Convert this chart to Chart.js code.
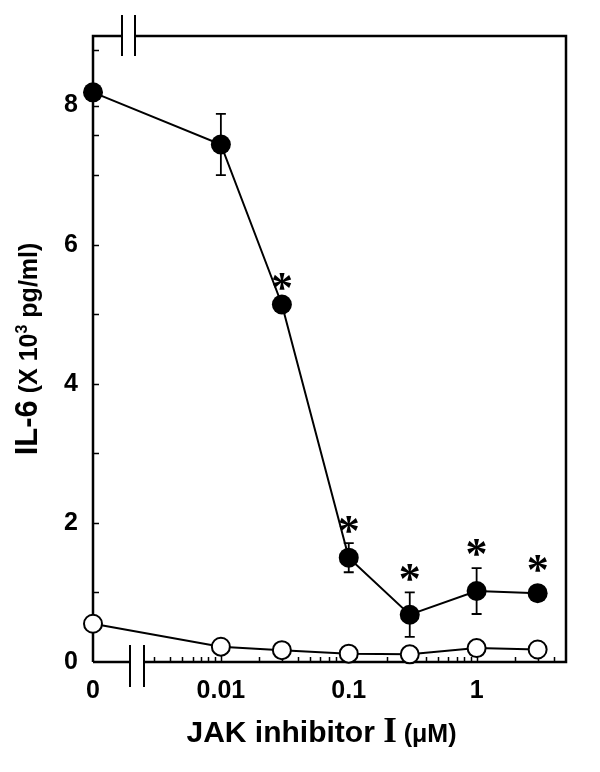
<!DOCTYPE html>
<html>
<head>
<meta charset="utf-8">
<script src="https://cdn.jsdelivr.net/npm/chart.js@4.4.1/dist/chart.umd.min.js"></script>
<style>
  html, body { margin: 0; padding: 0; background: #ffffff; }
  #wrap { position: relative; width: 600px; height: 772px; }
</style>
</head>
<body>
<div id="wrap"><canvas id="il6-chart"></canvas></div>
<script>
// concentrations of JAK inhibitor I (uM); 0 sits left of the axis break
const concs = [0, 0.01, 0.03, 0.1, 0.3, 1, 3];
// IL-6 (x10^3 pg/ml), filled circles
const il6Filled = [8.19, 7.44, 5.14, 1.50, 0.68, 1.02, 0.99];
const il6FilledErr = [0, 0.44, 0, 0.21, 0.32, 0.33, 0];
// IL-6 (x10^3 pg/ml), open circles
const il6Open = [0.55, 0.22, 0.17, 0.12, 0.11, 0.20, 0.18];
// where the significance asterisks sit (same units as y)
const starY = [null, null, 5.47, 1.97, 1.28, 1.64, 1.41];

const xTickConcs = [0, 0.01, 0.1, 1];
const xTickLabels = ['0', '0.01', '0.1', '1'];
const yTickValues = [0, 2, 4, 6, 8];
const yTickMarks = [1, 2, 3, 4, 5, 6, 7, 7.57, 8, 8.8];

const X_ZERO = -3;      // log position used for the "0" dose
const X_MAX_CONC = 5;
const SANS = '"Liberation Sans", Arial, Helvetica, sans-serif';
const SERIF = '"Liberation Serif", "Times New Roman", serif';

function toPos(c) {
  return c === 0 ? X_ZERO : Math.log10(c);
}

// log minor ticks to the right of the break
const xTickMarks = [];
for (let d = -3; d <= 0; d++) {
  for (let k = 1; k <= 9; k++) {
    const c = k * Math.pow(10, d);
    if (c > 0.0029 && c < X_MAX_CONC) xTickMarks.push({ c: c, major: k === 1 });
  }
}

const decorPlugin = {
  id: 'decor',
  beforeDatasetsDraw(chart) {
    const ctx = chart.ctx;
    const a = chart.chartArea;
    const xs = chart.scales.x;
    const ys = chart.scales.y;
    ctx.save();
    ctx.strokeStyle = '#000';
    ctx.lineCap = 'butt';

    // frame with breaks
    ctx.lineWidth = 2.5;
    ctx.beginPath();
    ctx.moveTo(a.left, a.bottom);
    ctx.lineTo(a.left, a.top);
    ctx.lineTo(a.left + 29, a.top);
    ctx.moveTo(a.left + 42, a.top);
    ctx.lineTo(a.right, a.top);
    ctx.lineTo(a.right, a.bottom);
    ctx.lineTo(a.left + 51, a.bottom);
    ctx.moveTo(a.left + 37, a.bottom);
    ctx.lineTo(a.left, a.bottom);
    ctx.stroke();

    ctx.lineWidth = 2;
    ctx.beginPath();
    [29, 42].forEach(dx => {
      ctx.moveTo(a.left + dx, a.top - 21);
      ctx.lineTo(a.left + dx, a.top + 20);
    });
    [37, 51].forEach(dx => {
      ctx.moveTo(a.left + dx, a.bottom - 17);
      ctx.lineTo(a.left + dx, a.bottom + 25);
    });
    ctx.stroke();

    // inward tick marks
    ctx.lineWidth = 1.5;
    ctx.beginPath();
    yTickMarks.forEach(v => {
      const py = Math.round(ys.getPixelForValue(v)) + 0.5;
      ctx.moveTo(a.left, py);
      ctx.lineTo(a.left + 6, py);
    });
    xTickMarks.forEach(t => {
      const px = Math.round(xs.getPixelForValue(Math.log10(t.c))) + 0.5;
      ctx.moveTo(px, a.bottom);
      ctx.lineTo(px, a.bottom - (t.major ? 8 : 5));
    });
    ctx.stroke();

    // error bars
    ctx.lineWidth = 1.8;
    ctx.beginPath();
    concs.forEach((c, i) => {
      const e = il6FilledErr[i];
      if (!e) return;
      const px = xs.getPixelForValue(toPos(c));
      const top = ys.getPixelForValue(il6Filled[i] + e);
      const bot = ys.getPixelForValue(il6Filled[i] - e);
      ctx.moveTo(px, top);
      ctx.lineTo(px, bot);
      ctx.moveTo(px - 5, top);
      ctx.lineTo(px + 5, top);
      ctx.moveTo(px - 5, bot);
      ctx.lineTo(px + 5, bot);
    });
    ctx.stroke();
    ctx.restore();
  },
  afterDraw(chart) {
    const ctx = chart.ctx;
    const a = chart.chartArea;
    const xs = chart.scales.x;
    const ys = chart.scales.y;
    ctx.save();
    ctx.fillStyle = '#000';

    // asterisks
    ctx.font = 'bold 44px ' + SERIF;
    ctx.textAlign = 'center';
    ctx.textBaseline = 'alphabetic';
    const m = ctx.measureText('*');
    const shift = (m.actualBoundingBoxAscent - m.actualBoundingBoxDescent) / 2;
    concs.forEach((c, i) => {
      if (starY[i] == null) return;
      const px = xs.getPixelForValue(toPos(c));
      const py = ys.getPixelForValue(starY[i]);
      ctx.fillText('*', px, py + shift);
    });

    // x title
    ctx.textAlign = 'left';
    const xParts = [
      { t: 'JAK inhibitor ', f: 'bold 30px ' + SANS },
      { t: 'I', f: 'bold 35px ' + SERIF },
      { t: ' (\u03bcM)', f: 'bold 25px ' + SANS }
    ];
    let total = 0;
    xParts.forEach(p => { ctx.font = p.f; p.w = ctx.measureText(p.t).width; total += p.w; });
    let x = (a.left + a.right) / 2 - 8 - total / 2;
    xParts.forEach(p => { ctx.font = p.f; ctx.fillText(p.t, x, 742); x += p.w; });

    // y title (rotated)
    ctx.translate(37, (a.top + a.bottom) / 2);
    ctx.rotate(-Math.PI / 2);
    const yParts = [
      { t: 'IL-6', f: 'bold 31px ' + SANS, dy: 0 },
      { t: ' (X 10', f: 'bold 25px ' + SANS, dy: 0 },
      { t: '3', f: 'bold 16px ' + SANS, dy: -10 },
      { t: ' pg/ml)', f: 'bold 25px ' + SANS, dy: 0 }
    ];
    total = 0;
    yParts.forEach(p => { ctx.font = p.f; p.w = ctx.measureText(p.t).width; total += p.w; });
    x = -total / 2;
    yParts.forEach(p => { ctx.font = p.f; ctx.fillText(p.t, x, p.dy); x += p.w; });
    ctx.restore();
  }
};

const ctx = document.getElementById('il6-chart').getContext('2d');
new Chart(ctx, {
  type: 'scatter',
  data: {
    datasets: [
      {
        label: 'filled',
        data: concs.map((c, i) => ({ x: toPos(c), y: il6Filled[i] })),
        showLine: true,
        borderColor: '#000',
        borderWidth: 2,
        pointRadius: 10,
        pointBackgroundColor: '#000',
        pointBorderColor: '#000',
        pointBorderWidth: 0,
        clip: false
      },
      {
        label: 'open',
        data: concs.map((c, i) => ({ x: toPos(c), y: il6Open[i] })),
        showLine: true,
        borderColor: '#000',
        borderWidth: 2,
        pointRadius: 9,
        pointBackgroundColor: '#fff',
        pointBorderColor: '#000',
        pointBorderWidth: 2,
        clip: false
      }
    ]
  },
  options: {
    responsive: true,
    maintainAspectRatio: false,
    animation: false,
    layout: { padding: { top: 36, right: 34, left: 0, bottom: 0 } },
    plugins: {
      legend: { display: false },
      tooltip: { enabled: false }
    },
    scales: {
      x: {
        type: 'linear',
        min: X_ZERO,
        max: Math.log10(X_MAX_CONC),
        afterBuildTicks: s => { s.ticks = xTickConcs.map(c => ({ value: toPos(c) })); },
        afterFit: s => { s.height = 110; },
        ticks: {
          callback: (v, i) => xTickLabels[i],
          color: '#000',
          font: { family: SANS, size: 25, weight: 'bold' },
          padding: 14,
          autoSkip: false,
          maxRotation: 0,
          minRotation: 0
        },
        grid: { display: false, drawTicks: false },
        border: { display: false }
      },
      y: {
        min: 0,
        max: 9,
        afterBuildTicks: s => { s.ticks = yTickValues.map(v => ({ value: v })); },
        afterFit: s => { s.width = 93; },
        ticks: {
          callback: v => String(v),
          color: '#000',
          font: { family: SANS, size: 25, weight: 'bold' },
          padding: 15
        },
        grid: { display: false, drawTicks: false },
        border: { display: false }
      }
    }
  },
  plugins: [decorPlugin]
});
</script>
</body>
</html>
